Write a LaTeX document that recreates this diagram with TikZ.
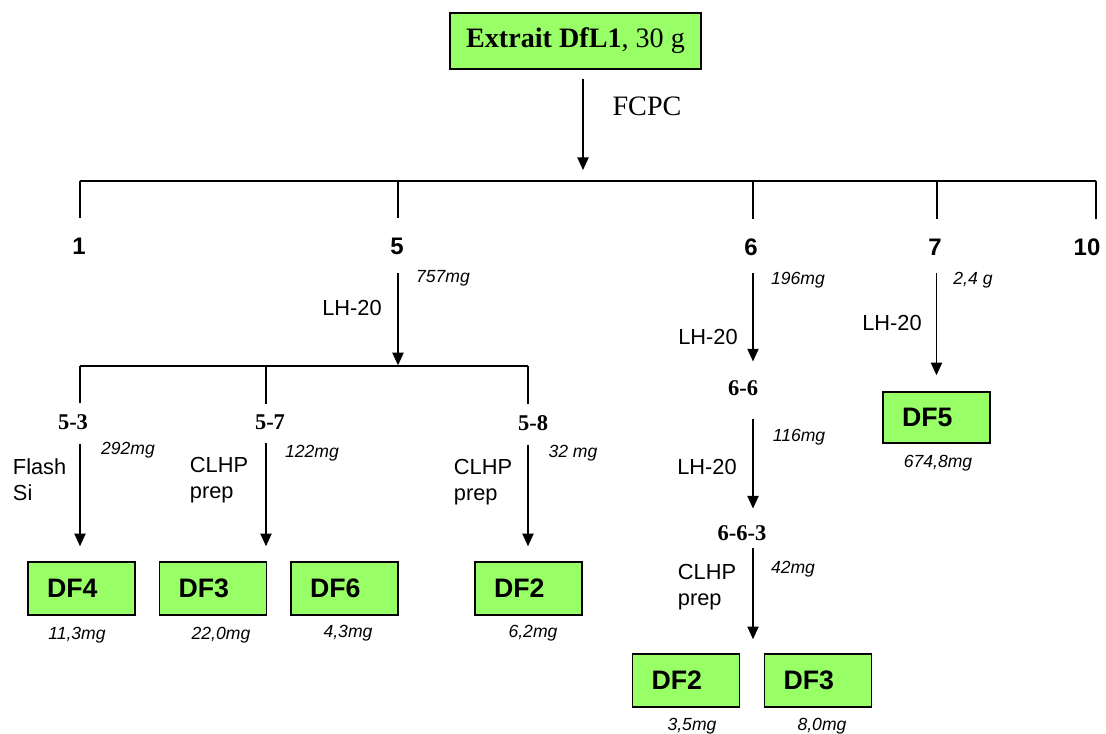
\documentclass[tikz,border=0pt]{standalone}
\usepackage{fontspec}
\setmainfont{Liberation Serif}
\setsansfont{Liberation Sans}
\usetikzlibrary{arrows.meta,positioning,calc}
\definecolor{dfgreen}{RGB}{153,255,102}

\begin{document}
\begin{tikzpicture}[x=0.025cm, y=-0.025cm,
  topbox/.style={rectangle, draw, line width=1pt, fill=dfgreen, minimum width=178.5pt, minimum height=39.8pt, font=\fontsize{20}{24}\selectfont},
  dfbox/.style={rectangle, draw, line width=1pt, fill=dfgreen, minimum height=37.7pt, inner xsep=13.5pt, text width=49pt, align=left, font=\sffamily\bfseries\fontsize{19}{22}\selectfont},
  frac/.style={font=\sffamily\bfseries\fontsize{17}{20}\selectfont},
  sub/.style={font=\bfseries\fontsize{16}{19}\selectfont},
  method/.style={font=\sffamily\fontsize{15.5}{18.5}\selectfont, align=left},
  mass/.style={font=\sffamily\itshape\fontsize{12.5}{15}\selectfont},
  link/.style={line width=1pt},
  arrow/.style={-{Triangle[length=9pt, width=8pt]}, line width=1pt},
]
\useasboundingbox (0,0) rectangle (1106,734);

% === EXTRACT + FCPC ===
\node[topbox] (extrait) at (575.5,41) {\textbf{Extrait DfL1}, 30 g};
\node[font=\fontsize{20}{24}\selectfont] (fcpc) at (647,106) {FCPC};
\coordinate (bus1) at (583,181);
\draw[arrow, shorten <=6.4pt, shorten >=7.8pt] (extrait.south -| bus1) -- (bus1);

\coordinate (busL) at (80,181);
\coordinate (busR) at (1096,181);
\draw[link, line width=1.3pt] (busL) -- (busR);

\foreach \n/\x/\y in {1/79/246, 5/397/246, 6/751/247, 7/935/247, 10/1087/247} {
  \node[frac] (f\n) at (\x,\y) {\n};
}
\foreach \n/\x in {1/80, 5/398, 6/753, 7/937, 10/1096} {
  \coordinate (drop\n) at (\x,181);
  \draw[link, shorten >=10.5pt] (drop\n) -- (drop\n |- f\n.north);
}

% === FRACTION 5 ===
\node[mass] (m5) at (443,278) {757mg};
\node[method] (lh5) at (352,308) {LH-20};
\coordinate (split5) at (398,366);
\draw[arrow, shorten <=10pt, shorten >=0.5pt] (f5.south -| split5) -- (split5);

\coordinate (sub5L) at (80,366);
\coordinate (sub5R) at (528,366);
\draw[link] (sub5L) -- (sub5R);

\node[sub] (n53) at (73,422) {5-3};
\node[sub] (n57) at (270,422) {5-7};
\node[sub] (n58) at (533,423) {5-8};
\foreach \n/\x in {53/80, 57/266, 58/528} {
  \coordinate (d\n) at (\x,366);
  \draw[link, shorten >=4.3pt] (d\n) -- (d\n |- n\n.north);
}

\node[mass] (m53) at (128,450) {292mg};
\node[mass] (m57) at (312,453) {122mg};
\node[mass] (m58) at (573,453) {32 mg};
\node[method, anchor=west] (flash) at (8,480) {Flash\\Si};
\node[method, anchor=west] (clhp57) at (185,480) {CLHP\\prep};
\node[method, anchor=west] (clhp58) at (449,482) {CLHP\\prep};

\node[dfbox] (df4) at (81.5,588.5) {DF4};
\node[dfbox] (df3a) at (213,588.5) {DF3};
\node[dfbox] (df6) at (344.5,588.5) {DF6};
\node[dfbox] (df2a) at (528.5,588.5) {DF2};

\draw[arrow, shorten <=6.4pt, shorten >=10.7pt] (n53.south -| d53) -- (d53 |- df4.north);
\draw[arrow, shorten <=6.4pt, shorten >=10.7pt] (n57.south -| d57) -- (d57 |- df3a.north);
\draw[arrow, shorten <=6.4pt, shorten >=10.7pt] (n58.south -| d58) -- (d58 |- df2a.north);

\node[mass] (m4) at (77,635) {11,3mg};
\node[mass] (m3a) at (221,635) {22,0mg};
\node[mass] (m6) at (348,633) {4,3mg};
\node[mass] (m2a) at (533,633) {6,2mg};

% === FRACTION 6 ===
\coordinate (col6) at (753,0);
\node[mass] (m6f) at (798,280) {196mg};
\node[method] (lh6) at (708,337) {LH-20};
\node[sub] (n66) at (743,388) {6-6};
\draw[arrow, shorten <=9.2pt, shorten >=10pt] (f6.south -| col6) -- (col6 |- n66.north);

\node[mass] (m66) at (799,437) {116mg};
\node[method] (lh66) at (707,467) {LH-20};
\node[sub] (n663) at (742,533) {6-6-3};
\draw[arrow, shorten <=12.8pt, shorten >=8.5pt] (n66.south -| col6) -- (col6 |- n663.north);

\node[mass] (m663) at (793,569) {42mg};
\node[method, anchor=west] (clhp663) at (673,587) {CLHP\\prep};
\node[dfbox] (df2b) at (686,680.5) {DF2};
\node[dfbox] (df3b) at (818,680.5) {DF3};
\draw[arrow, shorten <=2pt, shorten >=10pt] (n663.south -| col6) -- (col6 |- df2b.north);
\node[mass] (m2b) at (692,726) {3,5mg};
\node[mass] (m3b) at (822,726) {8,0mg};

% === FRACTION 7 ===
\node[mass] (m7) at (973,280) {2,4 g};
\node[method] (lh7) at (892,323) {LH-20};
\node[dfbox, minimum height=36.3pt] (df5) at (936.5,417.5) {DF5};
\draw[arrow, shorten <=9.2pt, shorten >=11.4pt] (f7.south -| df5) -- (df5.north);
\node[mass] (m5f) at (938,463) {674,8mg};
\end{tikzpicture}
\end{document}
